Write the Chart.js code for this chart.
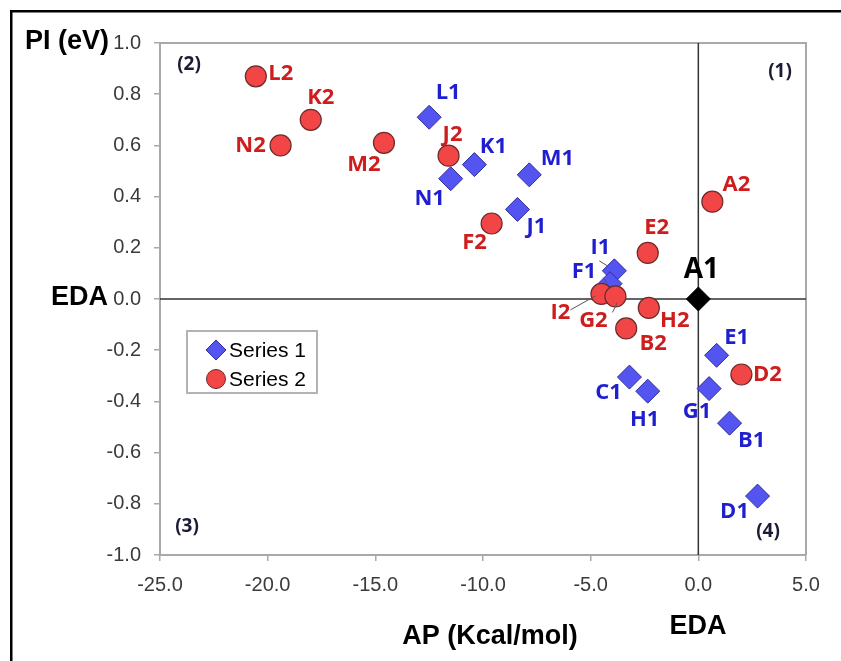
<!DOCTYPE html>
<html>
<head>
<meta charset="utf-8">
<script src="https://cdn.jsdelivr.net/npm/chart.js@4.4.0/dist/chart.umd.min.js"></script>
<style>
  html, body { margin: 0; padding: 0; background: #fff; }
  canvas { display: block; }
</style>
</head>
<body>
<canvas id="chart" width="841" height="661"></canvas>
<script>
// ---- data ----
// Series 1 (blue diamonds)
const s1Names = ['L1', 'K1', 'N1', 'M1', 'J1', 'I1', 'F1', 'C1', 'H1', 'E1', 'G1', 'B1', 'D1'];
const s1X = [-12.5, -10.4, -11.5, -7.85, -8.4, -3.9, -4.1, -3.2, -2.35, 0.85, 0.5, 1.45, 2.75];
const s1Y = [0.71, 0.525, 0.47, 0.485, 0.35, 0.11, 0.06, -0.305, -0.36, -0.22, -0.35, -0.485, -0.77];

// Series 2 (red circles)
const s2Names = ['L2', 'K2', 'N2', 'M2', 'J2', 'F2', 'E2', 'A2', 'I2', 'G2', 'H2', 'B2', 'D2'];
const s2X = [-20.55, -18.0, -19.4, -14.6, -11.6, -9.6, -2.35, 0.65, -4.5, -3.85, -2.3, -3.35, 2.0];
const s2Y = [0.87, 0.70, 0.60, 0.61, 0.56, 0.295, 0.18, 0.38, 0.02, 0.01, -0.035, -0.115, -0.295];

// reference point
const refNames = ['A1'];
const refX = [0];
const refY = [0];

// axes
const xMin = -25, xMax = 5, xStep = 5;
const yMin = -1, yMax = 1, yStep = 0.2;

// label placement (text centre offset from the point, px) - kept apart from the data
const s1LabelOff = [[19,-25],[19,-18],[-21,20],[28,-16],[19,17],[-14,-23],[-26,-12],[-21,16],[-3,29],[20,-18],[-12,23],[22,18],[-23,16]];
const s2LabelOff = [[25,-3],[10,-22],[-30,0],[-20,22],[4,-21],[-17,19],[9,-25],[24,-17],[-41,19],[-22,24],[26,13],[27,15],[26,0]];
const refLabelOff = [[3,-29]];
// small leader lines: [from dx, from dy, to dx, to dy] relative to the point
const s1Leaders = { 5: [-15,-10,-7,-5], 6: [-7,-6,-3,-1] };
const s2Leaders = { 8: [-31,16,-6,2], 9: [-3,16,2,6] };

const toPts = (xs, ys) => xs.map((x, i) => ({ x: x, y: ys[i] }));

const BLUE_FILL = '#5454f0', BLUE_EDGE = '#2e2e9c', BLUE_TEXT = '#1f1fcf';
const RED_FILL = '#f24646', RED_EDGE = '#6e2a2a', RED_TEXT = '#cf1d1d';
const AXIS_GRAY = '#a9a9a9';

// frame, plot border and the two zero lines
const backdropPlugin = {
    id: 'backdrop',
    beforeDatasetsDraw(chart) {
        const { ctx, chartArea: a, scales } = chart;
        ctx.save();
        // outer black frame (left + top)
        ctx.fillStyle = '#000';
        ctx.fillRect(10, 10, 831, 2.5);
        ctx.fillRect(10, 10, 2.5, 651);
        // grey plot border on top / right
        ctx.strokeStyle = AXIS_GRAY;
        ctx.lineWidth = 2;
        ctx.beginPath();
        ctx.moveTo(a.left, a.top);
        ctx.lineTo(a.right, a.top);
        ctx.lineTo(a.right, a.bottom);
        ctx.stroke();
        // zero lines
        const x0 = scales.x.getPixelForValue(0);
        const y0 = scales.y.getPixelForValue(0);
        ctx.strokeStyle = '#333';
        ctx.lineWidth = 1.5;
        ctx.beginPath();
        ctx.moveTo(x0, a.top);
        ctx.lineTo(x0, a.bottom);
        ctx.moveTo(a.left, y0);
        ctx.lineTo(a.right, y0);
        ctx.stroke();
        ctx.restore();
    }
};

// point names next to the markers
const pointLabelsPlugin = {
    id: 'pointLabels',
    afterDatasetsDraw(chart) {
        const { ctx } = chart;
        ctx.save();
        ctx.textAlign = 'center';
        ctx.textBaseline = 'middle';
        chart.data.datasets.forEach((ds, i) => {
            const meta = chart.getDatasetMeta(i);
            ctx.font = ds.nameFont;
            meta.data.forEach((pt, j) => {
                const off = ds.nameOffsets[j];
                const ld = ds.leaders && ds.leaders[j];
                if (ld) {
                    ctx.strokeStyle = '#555';
                    ctx.lineWidth = 1;
                    ctx.beginPath();
                    ctx.moveTo(pt.x + ld[0], pt.y + ld[1]);
                    ctx.lineTo(pt.x + ld[2], pt.y + ld[3]);
                    ctx.stroke();
                }
                ctx.fillStyle = ds.nameColor;
                ctx.fillText(ds.names[j], pt.x + off[0], pt.y + off[1]);
            });
        });
        ctx.restore();
    }
};

// axis captions, quadrant numbers and the boxed legend
const captionsPlugin = {
    id: 'captions',
    afterDraw(chart) {
        const { ctx } = chart;
        ctx.save();
        ctx.textBaseline = 'middle';
        ctx.fillStyle = '#000';
        ctx.font = "bold 27px 'Liberation Sans', Arial, sans-serif";
        ctx.textAlign = 'left';
        ctx.fillText('PI (eV)', 25, 42);
        ctx.textAlign = 'right';
        ctx.fillText('EDA', 108, 298);
        ctx.textAlign = 'center';
        ctx.fillText('AP (Kcal/mol)', 490, 637);
        ctx.fillText('EDA', 698, 627);

        ctx.font = "bold 19px 'Open Sans', sans-serif";
        ctx.fillStyle = '#1b1b35';
        ctx.fillText('(2)', 189, 65);
        ctx.fillText('(1)', 780, 72);
        ctx.fillText('(3)', 187, 527);
        ctx.fillText('(4)', 768, 532);

        // legend
        ctx.strokeStyle = '#b3b3b3';
        ctx.lineWidth = 2;
        ctx.strokeRect(187, 331, 130, 62);
        ctx.font = "21px 'Liberation Sans', Arial, sans-serif";
        ctx.textAlign = 'left';
        const rows = [chart.data.datasets[0], chart.data.datasets[1]];
        rows.forEach((ds, k) => {
            const cy = 350 + k * 29;
            ctx.fillStyle = ds.backgroundColor;
            ctx.strokeStyle = ds.borderColor;
            ctx.lineWidth = 1;
            ctx.beginPath();
            if (ds.pointStyle === 'rectRot') {
                ctx.moveTo(216, cy - 10);
                ctx.lineTo(226, cy);
                ctx.lineTo(216, cy + 10);
                ctx.lineTo(206, cy);
                ctx.closePath();
            } else {
                ctx.arc(216, cy, 9.5, 0, Math.PI * 2);
            }
            ctx.fill();
            ctx.stroke();
            ctx.fillStyle = '#000';
            ctx.fillText(ds.label, 229, cy + 1);
        });
        ctx.restore();
    }
};

new Chart(document.getElementById('chart'), {
    type: 'scatter',
    data: {
        datasets: [
            {
                label: 'Series 1',
                data: toPts(s1X, s1Y),
                pointStyle: 'rectRot',
                pointRadius: 12,
                pointHoverRadius: 12,
                backgroundColor: BLUE_FILL,
                borderColor: BLUE_EDGE,
                borderWidth: 1,
                order: 2,
                names: s1Names,
                nameOffsets: s1LabelOff,
                leaders: s1Leaders,
                nameColor: BLUE_TEXT,
                nameFont: "bold 22px 'Open Sans', sans-serif"
            },
            {
                label: 'Series 2',
                data: toPts(s2X, s2Y),
                pointStyle: 'circle',
                pointRadius: 10.5,
                pointHoverRadius: 10.5,
                backgroundColor: RED_FILL,
                borderColor: RED_EDGE,
                borderWidth: 1.2,
                order: 1,
                names: s2Names,
                nameOffsets: s2LabelOff,
                leaders: s2Leaders,
                nameColor: RED_TEXT,
                nameFont: "bold 22px 'Open Sans', sans-serif"
            },
            {
                label: 'A1',
                data: toPts(refX, refY),
                pointStyle: 'rectRot',
                pointRadius: 12,
                pointHoverRadius: 12,
                backgroundColor: '#000',
                borderColor: '#000',
                borderWidth: 1,
                order: 0,
                names: refNames,
                nameOffsets: refLabelOff,
                nameColor: '#000',
                nameFont: "bold 28px 'Open Sans', sans-serif"
            }
        ]
    },
    options: {
        responsive: false,
        devicePixelRatio: 1,
        animation: false,
        layout: { padding: { left: 0, top: 43, right: 35, bottom: 0 } },
        plugins: {
            legend: { display: false },
            title: { display: false },
            tooltip: { enabled: false }
        },
        scales: {
            x: {
                type: 'linear',
                min: xMin,
                max: xMax,
                afterFit: s => { s.height = 106; },
                border: { display: true, color: AXIS_GRAY, width: 2 },
                grid: { drawOnChartArea: false, drawTicks: true, tickLength: 6, color: AXIS_GRAY, lineWidth: 1.5 },
                ticks: {
                    stepSize: xStep,
                    padding: 12,
                    color: '#3a3a3a',
                    font: { family: "'Liberation Sans', Arial, sans-serif", size: 20 },
                    callback: v => v.toFixed(1),
                    maxRotation: 0
                }
            },
            y: {
                type: 'linear',
                min: yMin,
                max: yMax,
                afterFit: s => { s.width = 160; },
                border: { display: true, color: AXIS_GRAY, width: 2 },
                grid: { drawOnChartArea: false, drawTicks: true, tickLength: 6, color: AXIS_GRAY, lineWidth: 1.5 },
                ticks: {
                    stepSize: yStep,
                    padding: 13,
                    color: '#3a3a3a',
                    font: { family: "'Liberation Sans', Arial, sans-serif", size: 20 },
                    callback: v => v.toFixed(1)
                }
            }
        }
    },
    plugins: [backdropPlugin, pointLabelsPlugin, captionsPlugin]
});
</script>
</body>
</html>
